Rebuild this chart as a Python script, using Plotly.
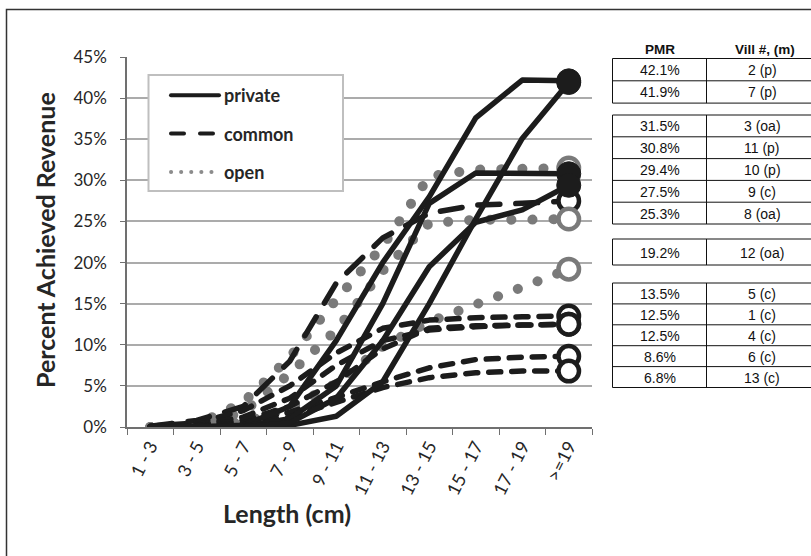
import plotly.graph_objects as go

# ---------------- data ----------------
categories = ["1 - 3", "3 - 5", "5 - 7", "7 - 9", "9 - 11", "11 - 13",
              "13 - 15", "15 - 17", "17 - 19", ">=19"]

# private (solid)
v2 = [0.0, 0.0, 0.2, 2.5, 10.5, 20.0, 28.0, 37.6, 42.2, 42.1]
v7 = [0.0, 0.0, 0.0, 0.2, 1.3, 5.5, 15.0, 25.3, 35.1, 41.9]
v11 = [0.0, 0.0, 0.1, 1.0, 5.0, 15.0, 27.2, 30.9, 30.9, 30.8]
v10 = [0.0, 0.0, 0.0, 0.5, 3.5, 10.5, 19.5, 24.9, 26.4, 29.4]
# common (dashed)
v9 = [0.1, 0.8, 2.5, 8.0, 17.5, 23.0, 26.0, 27.0, 27.2, 27.5]
v5 = [0.1, 0.5, 2.0, 5.0, 9.0, 12.0, 13.0, 13.3, 13.4, 13.5]
v1 = [0.1, 0.3, 1.2, 3.5, 7.5, 10.5, 11.8, 12.2, 12.4, 12.5]
v4 = [0.0, 0.2, 0.8, 2.5, 5.5, 9.5, 12.0, 12.3, 12.4, 12.5]
v6 = [0.0, 0.1, 0.5, 1.8, 3.6, 5.5, 7.2, 8.2, 8.5, 8.6]
v13 = [0.0, 0.1, 0.3, 1.2, 3.0, 4.8, 6.0, 6.6, 6.8, 6.8]
# open access (dotted)
v3 = [0.0, 0.3, 3.0, 8.5, 15.5, 22.0, 30.5, 31.3, 31.4, 31.5]
v8 = [0.0, 0.2, 1.8, 6.5, 11.8, 19.0, 24.8, 25.2, 25.2, 25.3]
v12 = [0.0, 0.1, 0.6, 2.3, 5.3, 9.8, 12.8, 14.8, 17.0, 19.2]

private_series = [v2, v7, v11, v10]
common_series = [v9, v5, v1, v4, v6, v13]
open_series = [v3, v8, v12]

legend_names = ["private", "common", "open"]

# table
pmr_values = [42.1, 41.9, 31.5, 30.8, 29.4, 27.5, 25.3, 19.2, 13.5, 12.5, 12.5, 8.6, 6.8]
vill_labels = ["2 (p)", "7 (p)", "3 (oa)", "11 (p)", "10 (p)", "9 (c)", "8 (oa)",
               "12 (oa)", "5 (c)", "1 (c)", "4 (c)", "6 (c)", "13 (c)"]
table_headers = ["PMR", "Vill #, (m)"]
group_sizes = [2, 5, 1, 5]

# ---------------- layout constants ----------------
W, H = 811, 556
L, R, T, B = 127, 219, 57, 129
PW, PH = W - L - R, H - T - B

def px2x(px):
    return (px - L) / PW

def py2y(py):
    return (H - B - py) / PH

BLACK = "#1c1c1c"
GRAY = "#7a7a7a"
TXT = "#262626"
FONT = "Lato"

fig = go.Figure()

def add_line(vals, color, width, dash):
    fig.add_trace(go.Scatter(x=categories, y=vals, mode="lines",
                             line=dict(color=color, width=width, dash=dash),
                             showlegend=False, hoverinfo="skip"))

for s in open_series:
    add_line(s, GRAY, 10, "0.1px,21px")
add_line(common_series[0], BLACK, 5.5, "22px,16px")
for s in common_series[1:]:
    add_line(s, BLACK, 5.5, "12px,11px")
for s in private_series:
    add_line(s, BLACK, 5.5, "solid")

# end markers
def add_end(vals, fill, edge, size, lw):
    fig.add_trace(go.Scatter(x=[categories[-1]], y=[vals[-1]], mode="markers",
                             marker=dict(symbol="circle", size=size, color=fill,
                                         line=dict(color=edge, width=lw)),
                             showlegend=False, hoverinfo="skip"))

for s in common_series:
    add_end(s, "white", BLACK, 20.5, 4.5)
for s in open_series:
    add_end(s, "white", GRAY, 20.5, 4.5)
for s in private_series:
    add_end(s, BLACK, BLACK, 24, 1)

# legend entries
legend_styles = [dict(color=BLACK, width=4, dash="solid"),
                 dict(color=BLACK, width=4, dash="13px,16px"),
                 dict(color="#8c8c8c", width=4, dash="0.1px,10px")]
for name, st in zip(legend_names, legend_styles):
    fig.add_trace(go.Scatter(x=[None], y=[None], mode="lines", name=name,
                             line=st, legendgroup=name, showlegend=True))

shapes = []
annotations = []

# outer frame
shapes.append(dict(type="rect", xref="paper", yref="paper",
                   x0=px2x(6.5), x1=px2x(830), y0=py2y(9.5), y1=py2y(600),
                   line=dict(color="#333333", width=1.5), layer="below"))

# legend box
shapes.append(dict(type="rect", xref="paper", yref="paper",
                   x0=px2x(148.5), x1=px2x(343), y0=py2y(191), y1=py2y(75),
                   line=dict(color="#bfbfbf", width=2), fillcolor="white", layer="above"))

# table
tab_left, tab_mid, tab_right = 612.5, 706.5, 818
group_tops = [58.5, 115, 239, 283]
group_row_h = [22.3, 21.8, 26, 20.9]
hdr_font = dict(family="Liberation Sans", size=13.5, color="#111")
cell_font = dict(family="Liberation Sans", size=14, color="#111")

def ann(px, py, text, font, **kw):
    d = dict(x=px2x(px), y=py2y(py), xref="paper", yref="paper", text=text,
             showarrow=False, xanchor="center", yanchor="middle", font=font)
    d.update(kw)
    annotations.append(d)

ann((tab_left + tab_mid) / 2, 50, "<b>%s</b>" % table_headers[0], hdr_font)
ann(765, 50, "<b>%s</b>" % table_headers[1], hdr_font)
idx = 0
for g, n in enumerate(group_sizes):
    top = group_tops[g]
    rh = group_row_h[g]
    bottom = top + n * rh
    shapes.append(dict(type="rect", xref="paper", yref="paper",
                       x0=px2x(tab_left), x1=px2x(tab_right), y0=py2y(bottom), y1=py2y(top),
                       line=dict(color="#111", width=1)))
    shapes.append(dict(type="line", xref="paper", yref="paper",
                       x0=px2x(tab_mid), x1=px2x(tab_mid), y0=py2y(bottom), y1=py2y(top),
                       line=dict(color="#111", width=1)))
    for k in range(n):
        ry = top + k * rh
        if k > 0:
            shapes.append(dict(type="line", xref="paper", yref="paper",
                               x0=px2x(tab_left), x1=px2x(tab_right), y0=py2y(ry), y1=py2y(ry),
                               line=dict(color="#111", width=1)))
        cy = ry + rh / 2 + 0.5
        ann((tab_left + tab_mid) / 2, cy, "%.1f%%" % pmr_values[idx], cell_font)
        ann(762, cy, vill_labels[idx], cell_font)
        idx += 1

# axis titles
ann(45, 240, "<b>Percent Achieved Revenue</b>", dict(family=FONT, size=25, color=TXT), textangle=-90)
ann(287, 513, "<b>Length (cm)</b>", dict(family=FONT, size=25, color=TXT))

fig.update_layout(
    width=W, height=H,
    margin=dict(l=L, r=R, t=T, b=B, pad=0),
    paper_bgcolor="white", plot_bgcolor="white",
    showlegend=True,
    legend=dict(x=px2x(166), y=py2y(77), xanchor="left", yanchor="top",
                bgcolor="rgba(0,0,0,0)", borderwidth=0,
                font=dict(family=FONT, size=18, color=TXT, weight="bold"),
                itemwidth=48, tracegroupgap=12, traceorder="grouped"),
    shapes=shapes, annotations=annotations,
    xaxis=dict(type="category", range=[-0.5, 9.5], tickson="boundaries",
               ticks="outside", ticklen=6, tickcolor="#707070", tickwidth=1,
               showline=True, linecolor="#707070", linewidth=1.5, showgrid=False,
               tickangle=-63, tickfont=dict(family=FONT, size=18, color=TXT)),
    yaxis=dict(range=[0, 45], dtick=5, ticksuffix="%", ticks="outside", ticklen=5,
               tickcolor="#707070", showline=True, linecolor="#707070", linewidth=1.5,
               showgrid=True, gridcolor="#ababab", gridwidth=1.5, zeroline=False,
               ticklabelstandoff=10,
               tickfont=dict(family=FONT, size=17, color=TXT)),
)

css_js = ("var s=document.createElement('style');"
          "s.innerHTML='.js-line{stroke-linecap:round !important;stroke-linejoin:round !important}';"
          "document.head.appendChild(s);")
fig.write_html("out.html", post_script=css_js)
